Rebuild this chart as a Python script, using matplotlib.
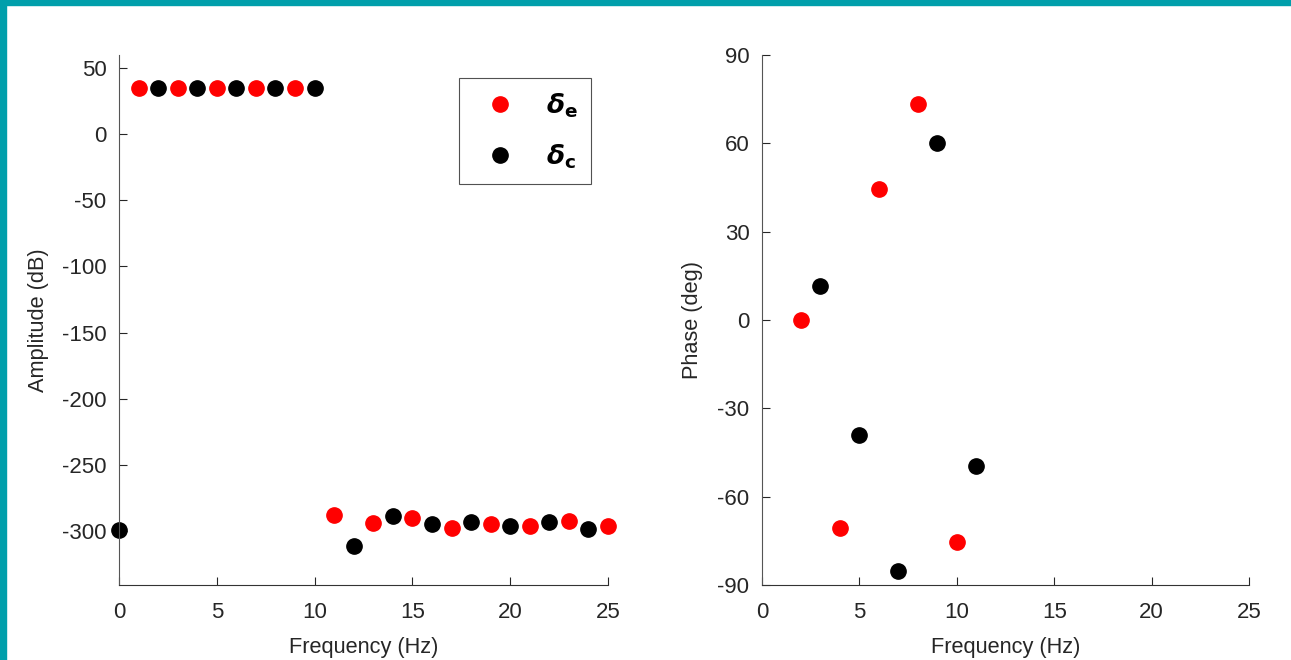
import matplotlib
matplotlib.use('Agg')
import matplotlib.pyplot as plt
from matplotlib.patches import Rectangle

plt.rcParams['font.family'] = ['Liberation Sans', 'DejaVu Sans']
plt.rcParams['axes.unicode_minus'] = False

# Amplitude spectrum (dB) for the two signals
amp_freq_e = [1, 3, 5, 7, 9, 11, 13, 15, 17, 19, 21, 23, 25]
amp_e = [35, 35, 35, 35, 35, -288, -294, -290, -297.5, -294.5, -296.5, -292.5, -296]
amp_freq_c = [0, 2, 4, 6, 8, 10, 12, 14, 16, 18, 20, 22, 24]
amp_c = [-299.5, 35, 35, 35, 35, 35, -311.5, -288.5, -295, -293.5, -296, -293.5, -299]

# Phase (deg) at the non-zero bins
ph_freq_e = [2, 4, 6, 8, 10]
ph_e = [0, -70.7, 44.6, 73.5, -75.5]
ph_freq_c = [3, 5, 7, 9, 11]
ph_c = [11.6, -39, -85.4, 60, -49.7]

label_e = r'$\boldsymbol{\delta}_\mathbf{e}$'
label_c = r'$\boldsymbol{\delta}_\mathbf{c}$'

fig = plt.figure(figsize=(12.91, 6.6), dpi=100)

W, H = 1291, 660
ax1 = fig.add_axes([119 / W, 1 - 585 / H, (608 - 119) / W, (585 - 55) / H])
ax2 = fig.add_axes([762 / W, 1 - 585 / H, (1249 - 762) / W, (585 - 55) / H])

ms = 11
ax1.plot(amp_freq_e, amp_e, 'o', color='#ff0000', ms=ms, label=label_e, clip_on=False)
ax1.plot(amp_freq_c, amp_c, 'o', color='black', ms=ms, label=label_c, clip_on=False)
ax2.plot(ph_freq_e, ph_e, 'o', color='#ff0000', ms=ms, clip_on=False)
ax2.plot(ph_freq_c, ph_c, 'o', color='black', ms=ms, clip_on=False)

ax1.set_xlim(0, 25)
ax1.set_ylim(-341, 60)
ax1.set_xticks([0, 5, 10, 15, 20, 25])
ax1.set_yticks([50, 0, -50, -100, -150, -200, -250, -300])
ax1.set_xlabel('Frequency (Hz)', fontsize=15.7, color='#262626', labelpad=10)
ax1.set_ylabel('Amplitude (dB)', fontsize=15.7, color='#262626', labelpad=9)

ax2.set_xlim(0, 25)
ax2.set_ylim(-90, 90)
ax2.set_xticks([0, 5, 10, 15, 20, 25])
ax2.set_yticks([-90, -60, -30, 0, 30, 60, 90])
ax2.set_xlabel('Frequency (Hz)', fontsize=15.7, color='#262626', labelpad=10)
ax2.set_ylabel('Phase (deg)', fontsize=15.7, color='#262626', labelpad=10)

for ax in (ax1, ax2):
    ax.spines['top'].set_visible(False)
    ax.spines['right'].set_visible(False)
    ax.spines['left'].set_color('#555555')
    ax.spines['bottom'].set_color('#333333')
    ax.tick_params(direction='in', length=6, labelsize=16, colors='#262626')
    ax.tick_params(axis='x', pad=12)
    ax.tick_params(axis='y', pad=9)

leg = ax1.legend(loc='upper left', bbox_to_anchor=((459 - 119) / 489, 1 - (78 - 55) / 530),
                 fontsize=19, frameon=True, fancybox=False, edgecolor='#262626',
                 borderpad=0.5, labelspacing=0.85, handletextpad=0.7,
                 handlelength=2.1, borderaxespad=0)
leg.get_frame().set_linewidth(0.8)

# teal frame along the left and top edges
fig.patches.append(Rectangle((0, 0), 6 / W, 1, transform=fig.transFigure,
                             color='#009fab', zorder=10))
fig.patches.append(Rectangle((0, 1 - 5 / H), 1, 5 / H, transform=fig.transFigure,
                             color='#009fab', zorder=10))

fig.savefig('out.png', dpi=100)
